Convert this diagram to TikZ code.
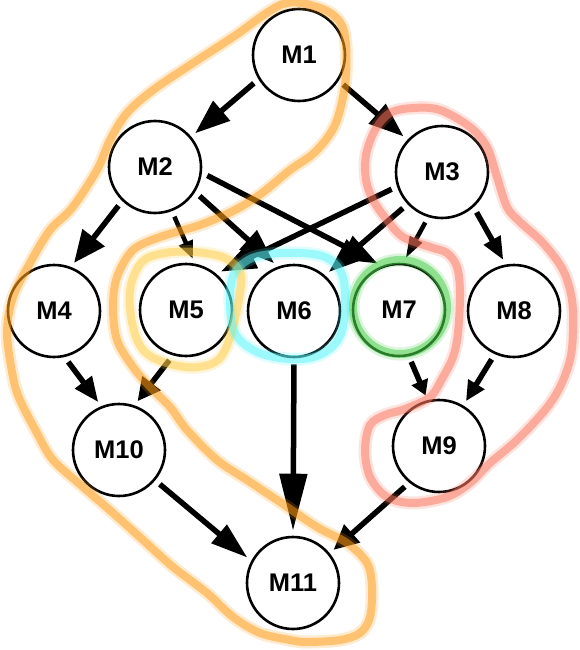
\documentclass[tikz,border=0pt]{standalone}
\usepackage{fontspec}
\setmainfont{Liberation Sans}
\newfontfamily\labelfont{Liberation Sans Bold}
\usetikzlibrary{arrows.meta}
\definecolor{hlorange}{RGB}{255,155,20}
\definecolor{hlred}{RGB}{250,115,90}
\definecolor{hlyellow}{RGB}{255,205,70}
\definecolor{hlcyan}{RGB}{90,245,250}
\definecolor{hlgreen}{RGB}{70,205,70}
\tikzset{
  mnode/.style={circle, draw=black, line width=2.6pt, minimum size=92pt, inner sep=0pt, fill=white,
    font=\labelfont\fontsize{25.5}{25.5}\selectfont},
  conn/.style={line width=5.5pt, shorten <=6pt, shorten >=5pt},
  thinconn/.style={line width=4.5pt, shorten <=6pt, shorten >=5pt},
  arrowbig/.style={-{Triangle[length=35pt,width=25pt]}},
  arrowlong/.style={-{Triangle[length=57pt,width=27pt]}},
  arrowsmall/.style={-{Triangle[length=18pt,width=14pt]}},
  arrowtiny/.style={-{Triangle[length=15pt,width=17pt]}},
  hlsoft/.style={line width=13pt, draw opacity=0.2, line join=round},
  hlcore/.style={line width=8pt, draw opacity=0.5, line join=round},
}
\begin{document}
\begin{tikzpicture}[x=1pt,y=-1pt]
\useasboundingbox[fill=white] (0,0) rectangle (580,650);
% nodes
\node[mnode] (M1) at (299,55) {M1};
\node[mnode] (M2) at (155,167) {M2};
\node[mnode] (M3) at (442,172) {M3};
\node[mnode] (M4) at (54,311) {M4};
\node[mnode] (M5) at (186,310) {M5};
\node[mnode] (M6) at (294,311) {M6};
\node[mnode] (M7) at (399,310) {M7};
\node[mnode] (M8) at (514,311) {M8};
\node[mnode] (M9) at (439,446) {M9};
\node[mnode] (M10) at (119,450) {M10};
\node[mnode] (M11) at (293,583) {M11};
% connectors
\draw[conn,arrowbig] (M1.211) -- (M2.40);
\draw[conn,arrowbig] (M1.327) -- (M3.137);
\draw[conn,-{Triangle[length=32pt,width=27pt]}] (M2.226) -- (M4.69);
\draw[thinconn,arrowsmall] (M2.291) -- (M5.79);
\draw[conn,arrowbig] (M2.328) -- (M6.110);
\draw[conn,arrowbig] (M2.353) -- (M7.111);
\draw[conn,arrowbig] (M3.198) -- (M5.50);
\draw[conn,arrowbig] (M3.223) -- (M6.49);
\draw[thinconn,-{Triangle[length=22pt,width=13pt]}] (M3.253) -- (M7.85);
\draw[conn,-{Triangle[length=23pt,width=18pt]}] (M3.312) -- (M8.100);
\draw[conn,-{Triangle[length=25pt,width=20pt]}] (M4.283) -- (M10.112);
\draw[conn,-{Triangle[length=23pt,width=22pt]}] (M5.254) -- (M10.71);
\draw[conn,arrowlong] (M6.270) -- (M11.90);
\draw[conn,arrowtiny] (M7.282) -- (M9.104);
\draw[conn,-{Triangle[length=20pt,width=18pt]}] (M8.246) -- (M9.59);
\draw[conn,-{Triangle[length=37pt,width=23pt]}] (M10.320) -- (M11.152);
\draw[conn,-{Triangle[length=25pt,width=23pt]}] (M9.231) -- (M11.39);
% highlight loops
\foreach \st in {hlsoft,hlcore}{
\draw[\st,hlorange] plot[smooth cycle,tension=0.55] coordinates {
 (283,4) (320,8) (340,22) (346,45) (345,85) (335,125) (315,152) (290,170) (262,193)
 (235,210) (200,225) (160,237) (133,250) (117,277) (113,307) (117,340) (133,367)
 (150,387) (170,407) (187,430) (217,460) (247,480) (277,500) (317,527) (347,543)
 (367,563) (372,587) (370,617) (360,633) (340,640) (307,642) (290,640) (260,633)
 (233,617) (207,593) (173,567) (143,540) (113,513) (83,487) (53,460) (37,433)
 (20,400) (13,377) (7,333) (13,297) (30,263) (50,230) (72,208) (97,170) (110,140)
 (127,113) (153,90) (187,67) (233,37)};
\draw[\st,hlred] plot[smooth cycle,tension=0.55] coordinates {
 (413,108) (440,110) (470,127) (487,147) (497,177) (507,207) (520,222) (543,243)
 (563,270) (572,300) (573,333) (570,360) (560,387) (545,410) (517,440) (490,463)
 (470,483) (447,497) (413,503) (387,497) (370,477) (365,450) (370,425) (385,415)
 (405,409) (430,397) (443,377) (453,357) (458,333) (460,293) (457,267) (447,253)
 (430,247) (403,237) (387,220) (373,200) (366,180) (366,155) (375,130) (390,113)};
\draw[\st,hlyellow] plot[smooth cycle,tension=0.6] coordinates {
 (130,290) (142,262) (165,253) (195,252) (225,258) (240,272) (240,293) (232,330)
 (220,358) (198,367) (170,364) (145,352) (133,327)};
\draw[\st,hlcyan] plot[smooth cycle,tension=0.6] coordinates {
 (233,276) (248,260) (270,254) (300,253) (325,257) (340,270) (345,292) (343,327)
 (332,347) (310,358) (280,358) (253,350) (235,333) (230,305)};
\draw[\st,hlgreen] (400,307) circle[radius=47];
}
\end{tikzpicture}
\end{document}
